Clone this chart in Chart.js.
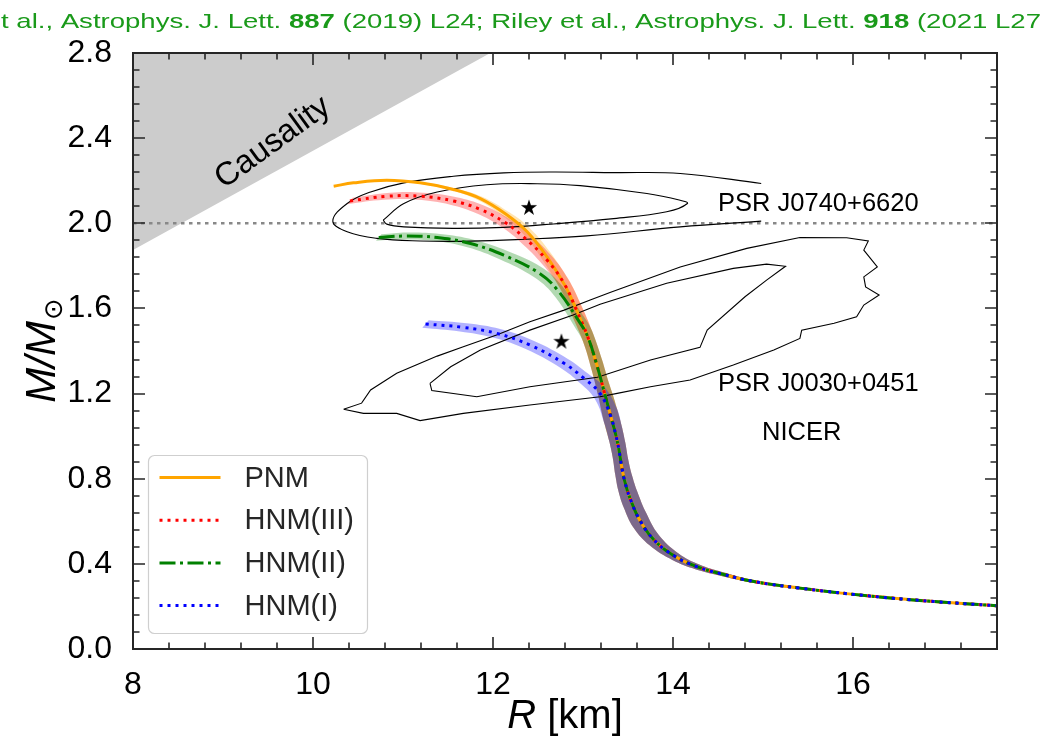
<!DOCTYPE html>
<html lang="en">
<head>
<meta charset="UTF-8">
<script src="https://cdn.jsdelivr.net/npm/chart.js"></script>
<style>
  html, body { margin: 0; padding: 0; background: #fff; }
  canvas { display: block; }
</style>
</head>
<body>
<canvas id="chart" width="1060" height="741"></canvas>
<script>
// ---- values ----
const xTicks = [8, 10, 12, 14, 16];
const yTicks = [0, 0.4, 0.8, 1.2, 1.6, 2.0, 2.4, 2.8];

// low-mass branch shared by all four EOS
const tailR = [13.26, 13.31, 13.36, 13.40, 13.43, 13.47, 13.53, 13.63, 13.79, 14.03, 14.27, 14.52, 14.90, 15.41, 16.16, 16.90, 17.60];
const tailM = [1.170, 1.091, 1.013, 0.935, 0.856, 0.778, 0.700, 0.606, 0.512, 0.433, 0.386, 0.355, 0.317, 0.286, 0.250, 0.223, 0.203];
const tailW = [0.065, 0.07, 0.07, 0.07, 0.072, 0.075, 0.075, 0.07, 0.05, 0.032, 0.022, 0.016, 0.011, 0.008, 0.005, 0.004, 0.003];

// PNM
const pnmR = [10.23, 10.45, 10.82, 11.19, 11.56, 11.86, 12.16, 12.38, 12.60, 12.81, 12.93, 13.05, 13.15, 13.23, ...tailR];
const pnmM = [2.174, 2.190, 2.202, 2.190, 2.159, 2.116, 2.038, 1.960, 1.842, 1.700, 1.59, 1.47, 1.34, 1.217, ...tailM];
const pnmW = [0.005, 0.005, 0.006, 0.008, 0.012, 0.018, 0.025, 0.032, 0.04, 0.045, 0.05, 0.05, 0.055, 0.06, ...tailW];

// HNM(III)
const hnm3R = [10.41, 10.82, 11.19, 11.56, 11.86, 12.12, 12.34, 12.60, 12.79, 12.93, 13.05, 13.15, 13.23, ...tailR];
const hnm3M = [2.105, 2.127, 2.127, 2.105, 2.065, 2.007, 1.936, 1.827, 1.717, 1.59, 1.47, 1.34, 1.217, ...tailM];
const hnm3W = [0.03, 0.033, 0.033, 0.035, 0.038, 0.04, 0.042, 0.045, 0.045, 0.05, 0.05, 0.055, 0.06, ...tailW];

// HNM(II)
const hnm2R = [10.73, 11.01, 11.38, 11.75, 12.12, 12.49, 12.71, 12.97, 13.05, 13.15, 13.23, ...tailR];
const hnm2M = [1.933, 1.940, 1.933, 1.905, 1.850, 1.772, 1.690, 1.53, 1.47, 1.34, 1.217, ...tailM];
const hnm2W = [0.03, 0.033, 0.033, 0.035, 0.04, 0.045, 0.045, 0.05, 0.05, 0.055, 0.06, ...tailW];

// HNM(I), joins the others just below 1.1 Msun
const hnm1R = [11.25, 11.67, 12.04, 12.41, 12.79, 13.01, 13.19, ...tailR.slice(1)];
const hnm1M = [1.527, 1.511, 1.483, 1.428, 1.342, 1.272, 1.200, ...tailM.slice(1)];
const hnm1W = [0.035, 0.038, 0.04, 0.04, 0.042, 0.045, 0.055, ...tailW.slice(1)];

// PSR J0740+6620 contours
const j0740OuterR = [14.98, 14.08, 13.34, 12.67, 12.12, 11.56, 11.01, 10.64, 10.38, 10.22, 10.38, 10.71, 11.19, 11.75, 12.30, 13.04, 14.08, 14.98];
const j0740OuterM = [2.187, 2.234, 2.238, 2.241, 2.237, 2.221, 2.190, 2.147, 2.093, 2.010, 1.960, 1.929, 1.917, 1.916, 1.924, 1.941, 1.983, 2.010];
const j0740InnerR = [10.78, 11.01, 11.38, 11.93, 12.49, 12.97, 13.71, 14.08, 14.16, 13.93, 13.34, 12.67, 12.12, 11.56, 11.01, 10.82, 10.78];
const j0740InnerM = [2.015, 2.093, 2.147, 2.181, 2.186, 2.177, 2.140, 2.108, 2.093, 2.054, 2.022, 1.997, 1.981, 1.976, 1.983, 1.996, 2.015];

// PSR J0030+0451 contours
const j0030OuterR = [10.34, 10.54, 10.64, 10.93, 11.38, 11.67, 12.04, 12.41, 12.79, 13.08, 13.30, 14.08, 14.82, 15.41, 15.93, 16.17,
  16.12, 16.27, 16.12, 16.14, 16.29, 16.12, 16.04, 15.79, 15.43, 15.41, 15.12, 14.67, 14.19, 13.75, 13.38, 13.19, 12.41, 11.67,
  11.19, 10.93, 10.56, 10.34];
const j0030OuterM = [1.126, 1.155, 1.217, 1.295, 1.376, 1.420, 1.475, 1.537, 1.592, 1.640, 1.675, 1.795, 1.882, 1.933, 1.932, 1.917,
  1.874, 1.795, 1.748, 1.701, 1.663, 1.616, 1.561, 1.530, 1.498, 1.459, 1.405, 1.334, 1.264, 1.232, 1.201, 1.185, 1.146, 1.107,
  1.073, 1.107, 1.107, 1.126];
const j0030InnerR = [11.30, 11.32, 11.82, 12.41, 13.16, 13.75, 14.30, 14.38, 14.80, 15.04, 15.25, 15.04, 14.67, 13.93, 13.19, 12.89, 12.41, 11.86, 11.53, 11.30];
const j0030InnerM = [1.248, 1.214, 1.185, 1.232, 1.277, 1.358, 1.417, 1.498, 1.655, 1.733, 1.798, 1.808, 1.788, 1.718, 1.620, 1.569, 1.498, 1.405, 1.326, 1.248];

// most probable values
const starR = [12.40, 12.76];
const starM = [2.077, 1.448];

// causality limit and 2 Msun line
const causR = [8, 11.97];
const causM = [1.874, 2.8];
const twoSunR = [8, 17.6];
const twoSunM = [2.0, 2.0];

// ---- helpers ----
const FONT = "'Liberation Sans', Arial, sans-serif";
Chart.defaults.font.family = FONT;

function pts(R, M) {
  return R.map((r, i) => ({x: r, y: M[i]}));
}

// closed outline of an uncertainty band around a curve
function band(R, M, W) {
  const up = R.map((r, i) => ({x: r + W[i], y: M[i] + W[i] / 2}));
  const lo = R.map((r, i) => ({x: r - W[i], y: M[i] - W[i] / 2})).reverse();
  return up.concat(lo);
}

function makeStar(size) {
  const c = document.createElement('canvas');
  c.width = c.height = size;
  const g = c.getContext('2d');
  const R = size / 2 - 0.5, r = R * 0.382;
  g.fillStyle = '#000';
  g.beginPath();
  for (let i = 0; i < 10; i++) {
    const a = -Math.PI / 2 + i * Math.PI / 5;
    const rr = i % 2 ? r : R;
    g.lineTo(size / 2 + rr * Math.cos(a), size / 2 + 1 + rr * Math.sin(a));
  }
  g.closePath();
  g.fill();
  return c;
}

function curve(label, R, M, color, dash, order) {
  return {label, data: pts(R, M), borderColor: color, borderWidth: 3, borderDash: dash,
          pointRadius: 0, fill: false, tension: 0.4, order, isCurve: true};
}

function bandSet(R, M, W, color) {
  return {data: band(R, M, W), backgroundColor: color, borderColor: 'rgba(0,0,0,0)', borderWidth: 0,
          pointRadius: 0, fill: 'shape', tension: 0.4, order: 10};
}

function contour(R, M, tension) {
  return {data: pts(R, M), borderColor: '#000', borderWidth: 1.1, pointRadius: 0, fill: false, tension, order: 8};
}

// ---- decorations: frame, ticks, labels, legend ----
const decor = {
  id: 'decor',
  afterDatasetsDraw(chart) {
    const {ctx, chartArea: a, scales: {x, y}} = chart;
    ctx.save();

    // text inside the plot
    ctx.fillStyle = '#000';
    ctx.font = '25.5px ' + FONT;
    ctx.textBaseline = 'middle';
    ctx.textAlign = 'left';
    ctx.fillText('PSR J0740+6620', x.getPixelForValue(14.50), y.getPixelForValue(2.09));
    ctx.fillText('PSR J0030+0451', x.getPixelForValue(14.50), y.getPixelForValue(1.246));
    ctx.textAlign = 'center';
    ctx.fillText('NICER', x.getPixelForValue(15.43), y.getPixelForValue(1.017));

    ctx.save();
    ctx.translate(x.getPixelForValue(9.553), y.getPixelForValue(2.378));
    ctx.rotate(-36 * Math.PI / 180);
    ctx.font = '32.5px ' + FONT;
    ctx.fillText('Causality', 0, 0);
    ctx.restore();

    // ticks on all four sides, pointing in
    ctx.strokeStyle = '#262626';
    ctx.lineWidth = 1.6;
    ctx.beginPath();
    const xt = (v, len) => {
      const px = Math.round(x.getPixelForValue(v));
      ctx.moveTo(px, a.bottom); ctx.lineTo(px, a.bottom - len);
      ctx.moveTo(px, a.top); ctx.lineTo(px, a.top + len);
    };
    const yt = (v, len) => {
      const py = Math.round(y.getPixelForValue(v));
      ctx.moveTo(a.left, py); ctx.lineTo(a.left + len, py);
      ctx.moveTo(a.right, py); ctx.lineTo(a.right - len, py);
    };
    for (let i = 0; i <= 24; i++) {
      const v = 8 + i * 0.4;
      xt(v, xTicks.some(t => Math.abs(t - v) < 1e-6) ? 12 : 6.5);
    }
    for (let i = 0; i <= 35; i++) {
      const v = i * 0.08;
      yt(v, yTicks.some(t => Math.abs(t - v) < 1e-6) ? 12 : 6.5);
    }
    ctx.stroke();

    // frame
    ctx.lineWidth = 2;
    ctx.strokeRect(a.left, a.top, a.right - a.left, a.bottom - a.top);
    ctx.restore();
  },
  afterDraw(chart) {
    const {ctx, chartArea: a} = chart;
    ctx.save();

    // reference line at the top, green, partly cut off on the left
    const parts = [['t al., Astrophys. J. Lett. ', false], ['887', true], [' (2019) L24; Riley et al., Astrophys. J. Lett. ', false],
                   ['918', true], [' (2021 L27', false]];
    let total = 0;
    for (const [t, b] of parts) {
      ctx.font = (b ? 'bold ' : '') + '21px ' + FONT;
      total += ctx.measureText(t).width;
    }
    ctx.translate(1, 28);
    ctx.scale(1040 / total, 1);
    ctx.fillStyle = '#1a9a1a';
    ctx.textBaseline = 'alphabetic';
    let cx = 0;
    for (const [t, b] of parts) {
      ctx.font = (b ? 'bold ' : '') + '21px ' + FONT;
      ctx.fillText(t, cx, 0);
      cx += ctx.measureText(t).width;
    }
    ctx.setTransform(1, 0, 0, 1, 0, 0);

    // x axis title: italic R + [km]
    ctx.fillStyle = '#000';
    ctx.textAlign = 'left';
    ctx.textBaseline = 'alphabetic';
    const fi = 'italic 40px ' + FONT, fr = '40px ' + FONT;
    ctx.font = fi; const wR = ctx.measureText('R').width;
    ctx.font = fr; const wK = ctx.measureText(' [km]').width;
    let sx = (a.left + a.right) / 2 - (wR + wK) / 2;
    ctx.font = fi; ctx.fillText('R', sx, 728);
    ctx.font = fr; ctx.fillText(' [km]', sx + wR, 728);

    // y axis title: M/M_sun
    ctx.save();
    ctx.translate(55, (a.top + a.bottom) / 2);
    ctx.rotate(-Math.PI / 2);
    ctx.font = 'italic 42px ' + FONT;
    const wM = ctx.measureText('M/M').width;
    ctx.font = "26px 'DejaVu Sans'";
    const wS = ctx.measureText('\u2299').width;
    const y0 = -(wM + wS) / 2;
    ctx.font = 'italic 42px ' + FONT;
    ctx.fillText('M/M', y0, 0);
    ctx.font = "26px 'DejaVu Sans'";
    ctx.fillText('\u2299', y0 + wM + 1, 7);
    ctx.restore();

    // legend box
    const bx = a.left + 15.5, by = 455.5, bw = 219, bh = 178;
    ctx.beginPath();
    ctx.roundRect(bx, by, bw, bh, 6);
    ctx.fillStyle = 'rgba(255,255,255,0.8)';
    ctx.fill();
    ctx.strokeStyle = '#cfcfcf';
    ctx.lineWidth = 1.2;
    ctx.stroke();

    const items = chart.data.datasets.filter(d => d.isCurve).sort((p, q) => q.order - p.order);
    items.forEach((d, i) => {
      const ly = 477.5 + i * 42.7;
      ctx.beginPath();
      ctx.setLineDash(d.borderDash || []);
      ctx.strokeStyle = d.borderColor;
      ctx.lineWidth = d.borderWidth;
      ctx.moveTo(bx + 11, ly);
      ctx.lineTo(bx + 72, ly);
      ctx.stroke();
      ctx.setLineDash([]);
      ctx.fillStyle = '#262626';
      ctx.font = '29px ' + FONT;
      ctx.textBaseline = 'middle';
      ctx.fillText(d.label, bx + 96, ly + 1);
    });
    ctx.restore();
  }
};

const ctx = document.getElementById('chart').getContext('2d');
const star = makeStar(18);

const myChart = new Chart(ctx, {
  type: 'line',
  data: {
    datasets: [
      {data: pts(starR, starM), showLine: false, pointStyle: star, pointRadius: 9, order: 0},
      curve('HNM(I)', hnm1R, hnm1M, 'blue', [3, 5], 1),
      curve('HNM(II)', hnm2R, hnm2M, 'green', [16, 4.5, 3, 4.5], 2),
      curve('HNM(III)', hnm3R, hnm3M, 'red', [3, 5], 3),
      curve('PNM', pnmR, pnmM, 'orange', [], 4),
      contour(j0740OuterR, j0740OuterM, 0.4),
      contour(j0740InnerR, j0740InnerM, 0.4),
      contour(j0030OuterR, j0030OuterM, 0),
      contour(j0030InnerR, j0030InnerM, 0),
      bandSet(hnm1R, hnm1M, hnm1W, 'rgba(0,0,255,0.3)'),
      bandSet(hnm2R, hnm2M, hnm2W, 'rgba(0,128,0,0.3)'),
      bandSet(hnm3R, hnm3M, hnm3W, 'rgba(255,0,0,0.3)'),
      bandSet(pnmR, pnmM, pnmW, 'rgba(255,165,0,0.3)'),
      {data: pts(twoSunR, twoSunM), borderColor: '#888', borderWidth: 2.5, borderDash: [3.5, 4.5], pointRadius: 0, fill: false, order: 30},
      {data: pts(causR, causM), borderColor: 'rgba(0,0,0,0)', borderWidth: 0, backgroundColor: '#cccccc', pointRadius: 0, fill: 'end', order: 40}
    ]
  },
  options: {
    responsive: false,
    animation: false,
    devicePixelRatio: 1,
    layout: {padding: {top: 53, right: 63, left: 0, bottom: 0}},
    plugins: {legend: {display: false}, tooltip: {enabled: false}},
    scales: {
      x: {
        type: 'linear', min: 8, max: 17.6,
        grid: {display: false}, border: {display: false},
        afterBuildTicks: s => { s.ticks = xTicks.map(v => ({value: v})); },
        afterFit: s => { s.height = 92; },
        ticks: {color: '#000', font: {size: 32}, padding: 9, maxRotation: 0, callback: v => String(v)}
      },
      y: {
        type: 'linear', min: 0, max: 2.8,
        grid: {display: false}, border: {display: false},
        afterBuildTicks: s => { s.ticks = yTicks.map(v => ({value: v})); },
        afterFit: s => { s.width = 133; },
        ticks: {color: '#000', font: {size: 32}, padding: 13, callback: v => v.toFixed(1)}
      }
    }
  },
  plugins: [decor]
});
</script>
</body>
</html>
